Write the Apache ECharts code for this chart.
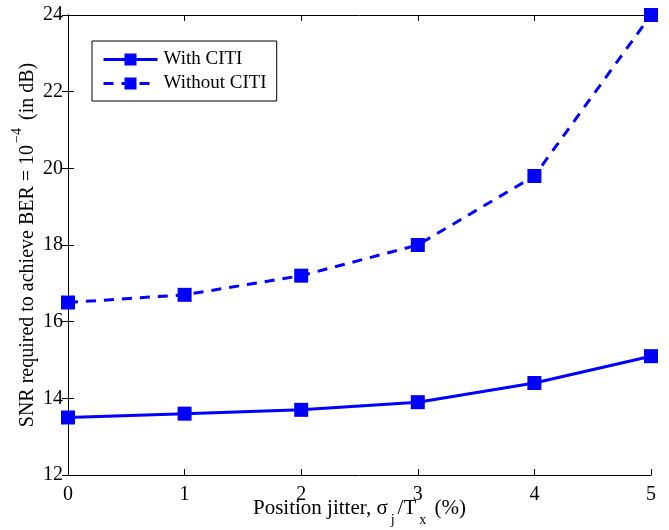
<!DOCTYPE html>
<html><head><meta charset="utf-8">
<script src="https://cdn.jsdelivr.net/npm/echarts@6/dist/echarts.min.js"></script>
<style>html,body{margin:0;padding:0;background:#fff}#c{width:669px;height:530px}</style>
</head><body><div id="c"></div>
<script>
const jitter = [0, 1, 2, 3, 4, 5];
const withCITI = [13.5, 13.6, 13.7, 13.9, 14.4, 15.1];
const withoutCITI = [16.5, 16.7, 17.2, 18.0, 19.8, 24.0];
const seriesNames = ['With CITI', 'Without CITI'];

const font = 'Liberation Serif';
const blue = '#0000ff';
const chart = echarts.init(document.getElementById('c'));
const tickCommon = {
  axisLine: {show: true, lineStyle: {color: '#000', width: 1}},
  axisTick: {show: true, inside: true, length: 6, lineStyle: {color: '#000'}},
  splitLine: {show: false}
};
chart.setOption({
  animation: false,
  backgroundColor: '#fff',
  textStyle: {fontFamily: font},
  grid: {left: 68, right: 18, top: 15, bottom: 55, containLabel: false, outerBoundsMode: 'none'},
  legend: {
    orient: 'vertical', left: 92, top: 41,
    data: seriesNames,
    borderColor: '#000', borderWidth: 1, backgroundColor: '#fff',
    padding: [9, 10, 8, 10], itemGap: 5,
    itemWidth: 54, itemHeight: 15,
    lineStyle: {width: 3},
    textStyle: {fontFamily: font, fontSize: 19, color: '#000', padding: [0, 0, 0, 1]}
  },
  xAxis: [{
    type: 'value', min: 0, max: 5, interval: 1, position: 'bottom',
    ...tickCommon,
    axisLabel: {color: '#000', fontSize: 20, fontFamily: font, margin: 10},
    name: '{a|Position jitter, σ}{s|j}{a|/T}{s|x}{a| (%)}',
    nameLocation: 'middle', nameGap: 22, nameMoveOverlap: false,
    nameTextStyle: {rich: {
      a: {fontFamily: font, fontSize: 21, color: '#000', verticalAlign: 'top', height: 22},
      s: {fontFamily: font, fontSize: 14, color: '#000', verticalAlign: 'bottom', padding: [0, 3, 0, 3], height: 14}
    }, lineHeight: 30}
  }, {
    type: 'value', min: 0, max: 5, interval: 1, position: 'top',
    ...tickCommon, axisLabel: {show: false}
  }],
  yAxis: [{
    type: 'value', min: 12, max: 24, interval: 2, position: 'left',
    ...tickCommon,
    axisLabel: {color: '#000', fontSize: 20, fontFamily: font, margin: 5},
    name: '{a|SNR required to achieve BER = 10}{s|−4}{a| (in dB)}',
    nameLocation: 'middle', nameGap: 30, nameRotate: 90, nameMoveOverlap: false,
    nameTextStyle: {rich: {
      a: {fontFamily: font, fontSize: 20, color: '#000', verticalAlign: 'bottom', height: 21},
      s: {fontFamily: font, fontSize: 14, color: '#000', verticalAlign: 'top', padding: [0, 3, 0, 2], height: 14}
    }, lineHeight: 28}
  }, {
    type: 'value', min: 12, max: 24, interval: 2, position: 'right',
    ...tickCommon, axisLabel: {show: false}
  }],
  series: [{
    name: seriesNames[0], type: 'line',
    data: jitter.map((x, i) => [x, withCITI[i]]),
    symbol: 'rect', symbolSize: 14,
    lineStyle: {color: blue, width: 3, type: 'solid'},
    itemStyle: {color: blue},
    z: 5
  }, {
    name: seriesNames[1], type: 'line',
    data: jitter.map((x, i) => [x, withoutCITI[i]]),
    symbol: 'rect', symbolSize: 14,
    lineStyle: {color: blue, width: 3, type: [10, 8]},
    itemStyle: {color: blue},
    z: 5
  }]
});
</script></body></html>
